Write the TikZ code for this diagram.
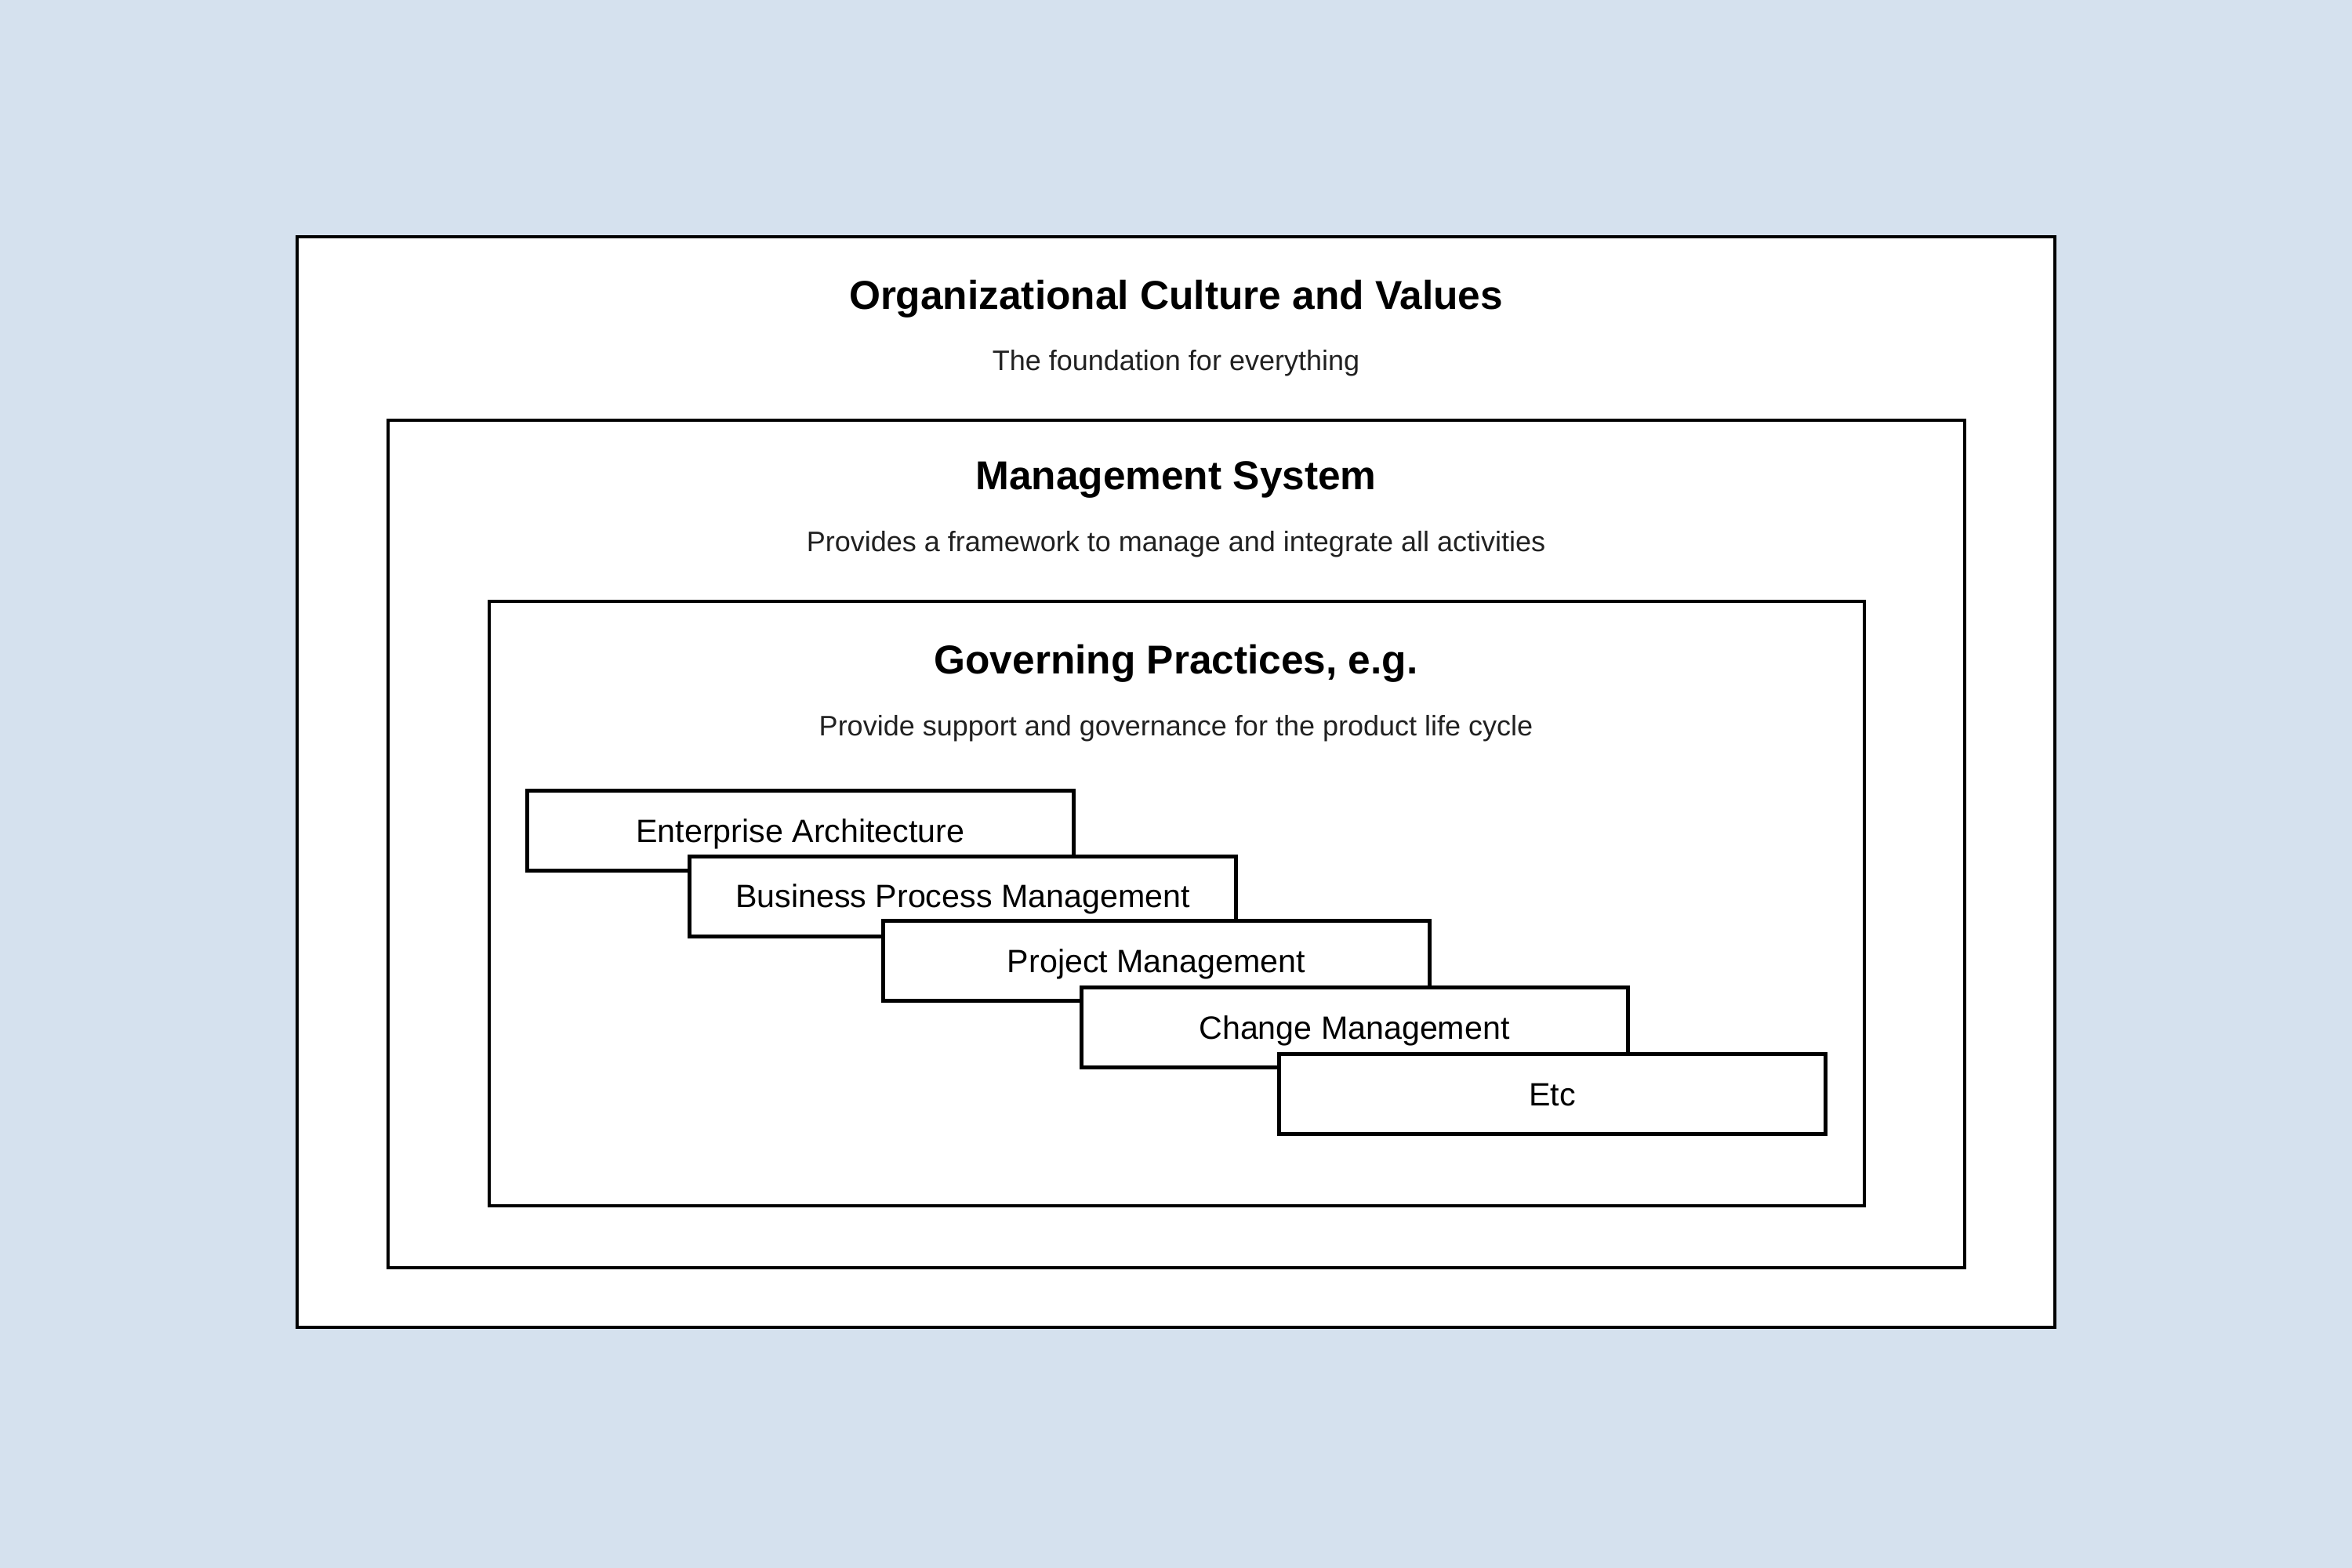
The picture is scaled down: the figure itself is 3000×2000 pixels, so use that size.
\documentclass[tikz,border=0pt]{standalone}
\usepackage{fontspec}
\setmainfont{Liberation Sans}
\newcommand{\itemtext}[1]{\raisebox{-3.7pt}[0pt][0pt]{#1}}
\begin{document}
\begin{tikzpicture}[x=0.25pt,y=-0.25pt,
  frame/.style={draw=black,line width=1.15pt,fill=white},
  item/.style={draw=black,line width=1.25pt,fill=white,minimum width=174.25pt,minimum height=25.5pt,inner sep=0pt,font=\fontsize{10.3}{12}\selectfont},
  ttl/.style={font=\bfseries\fontsize{12.85}{15}\selectfont,inner sep=0pt},
  sub/.style={font=\fontsize{9}{11}\selectfont,text=black!87,inner sep=0pt}]
\useasboundingbox (0,0) rectangle (3000,2000);
\fill[fill={rgb,255:red,213;green,225;blue,238}] (0,0) rectangle (3000,2000);
\node[frame,minimum width=560.5pt,minimum height=347.75pt,inner sep=0pt] (org) at (1500,997.5) {};
\node[frame,minimum width=502.75pt,minimum height=270.25pt,inner sep=0pt] (ms) at (1500.5,1076.5) {};
\node[frame,minimum width=438.5pt,minimum height=192.75pt,inner sep=0pt] (gp) at (1501,1152.5) {};
\node[ttl] (orgt) at (1500,381) {Organizational Culture and Values};
\node[sub] (orgs) at (1500,463) {The foundation for everything};
\node[ttl] (mst) at (1500,612) {Management System};
\node[sub] (mss) at (1500,694) {Provides a framework to manage and integrate all activities};
\node[ttl] (gpt) at (1500,846) {Governing Practices, e.g.};
\node[sub] (gps) at (1500,929) {Provide support and governance for the product life cycle};
\node[item] (ea) at (1021,1059.5) {\itemtext{Enterprise Architecture}};
\node[item] (bpm) at (1228,1143) {\itemtext{Business Process Management}};
\node[item] (pm) at (1475,1225.5) {\itemtext{Project Management}};
\node[item] (cm) at (1727.5,1310.5) {\itemtext{Change Management}};
\node[item] (etc) at (1980,1395.5) {\itemtext{Etc}};
\end{tikzpicture}
\end{document}
